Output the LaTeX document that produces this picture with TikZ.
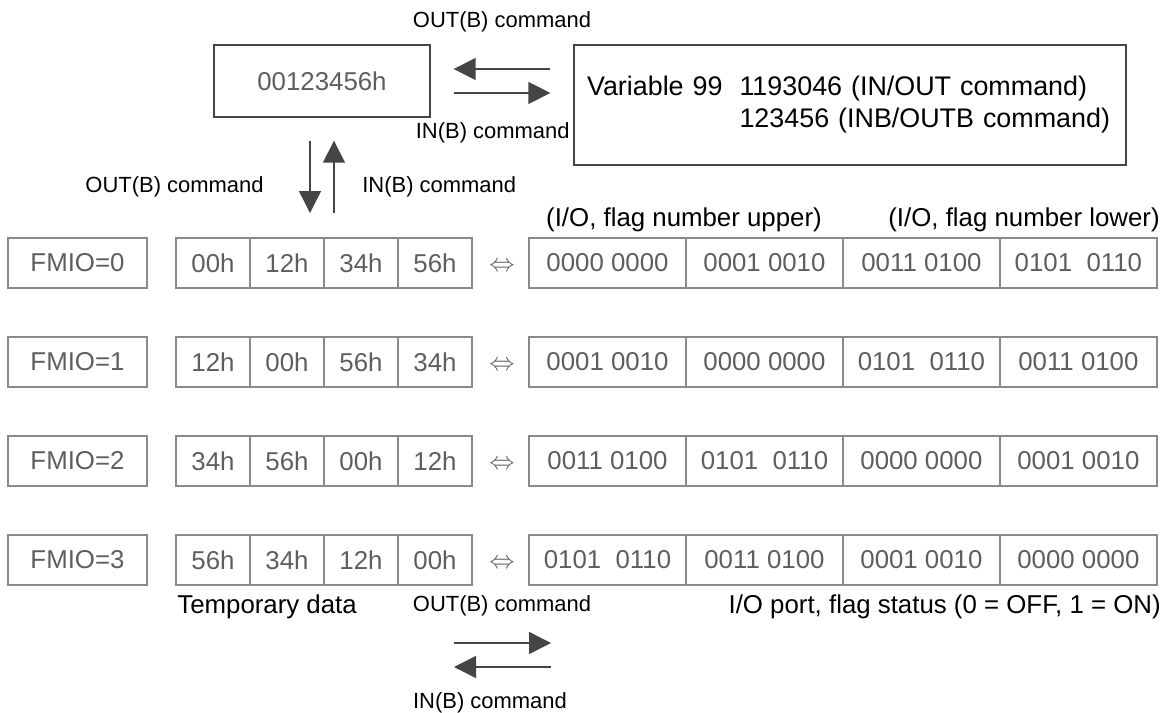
\documentclass[tikz,border=0pt]{standalone}
\usepackage{fontspec}
\setmainfont{Liberation Sans}
\usetikzlibrary{positioning}
\usetikzlibrary{arrows.meta}
\definecolor{boxgray}{HTML}{8A8A8A}
\definecolor{txtgray}{HTML}{5E5E5E}
\definecolor{arrgray}{HTML}{454545}

\begin{document}
\begin{tikzpicture}[x=0.02cm, y=-0.02cm,
    cell/.style={draw=boxgray, line width=0.7pt, outer sep=0pt, inner sep=0pt,
      minimum height=1cm, text=txtgray, font=\fontsize{14.7}{17}\selectfont},
    fmio/.style={cell, minimum width=2.78cm},
    byte/.style={cell, minimum width=1.48cm},
    bits/.style={cell, minimum width=3.14cm},
    eqv/.style={text=txtgray, inner sep=0pt, yshift=-2pt, font=\fontsize{15.5}{17}\selectfont},
    lbl/.style={inner sep=0pt, font=\fontsize{14.7}{17}\selectfont},
    cmd/.style={inner sep=0pt, font=\fontsize{12.5}{15}\selectfont},
    arr/.style={draw=arrgray, line width=0.8pt, -{Triangle[length=4.4mm,width=4.4mm]}}]
    \useasboundingbox (0,0) rectangle (1166,713);

    % top part
    \node[draw=arrgray, line width=0.8pt, minimum width=4.32cm, minimum height=1.44cm,
      text=txtgray, font=\fontsize{14.7}{17}\selectfont] (tmp) at (322,81) {00123456h};
    \node[draw=arrgray, line width=0.8pt, minimum width=11.04cm, minimum height=2.4cm,
      inner xsep=0.26cm, text width=10.52cm, align=left,
      font=\fontsize{15.3}{18.5}\selectfont] (var) at (850,105)
      {\begin{tabular}{@{}l@{\hspace{0.34cm}}l@{}}
        Variable 99 & 1193046 (IN/OUT command)\\
                    & 123456 (INB/OUTB command)
      \end{tabular}};
    \node[cmd] (topout) at (502,22) {OUT(B) command};
    \node[cmd, anchor=east] (topin) at (570,133) {IN(B) command};
    \node[cmd, anchor=east] (vout) at (264,187) {OUT(B) command};
    \node[cmd, anchor=west] (vin) at (362,187) {IN(B) command};
    \node[lbl] (upper) at (684,220) {(I/O, flag number upper)};
    \node[lbl, anchor=east] (lower) at (1160,220) {(I/O, flag number lower)};

    % FMIO=0
    \node[fmio] (F0) at (77.5,263) {FMIO=0};
    \node[byte, anchor=west] (a0) at (176,263) {00h};
    \node[byte] (b0) [right=0pt of a0] {12h};
    \node[byte] (c0) [right=0pt of b0] {34h};
    \node[byte] (d0) [right=0pt of c0] {56h};
    \node[eqv] (e0) at (502,263) {$\Leftrightarrow$};
    \node[bits, anchor=west] (p0) at (529,263) {0000 0000};
    \node[bits] (q0) [right=0pt of p0] {0001 0010};
    \node[bits] (r0) [right=0pt of q0] {0011 0100};
    \node[bits] (s0) [right=0pt of r0] {0101\ \ 0110};

    % FMIO=1
    \node[fmio] (F1) at (77.5,362) {FMIO=1};
    \node[byte, anchor=west] (a1) at (176,362) {12h};
    \node[byte] (b1) [right=0pt of a1] {00h};
    \node[byte] (c1) [right=0pt of b1] {56h};
    \node[byte] (d1) [right=0pt of c1] {34h};
    \node[eqv] (e1) at (502,362) {$\Leftrightarrow$};
    \node[bits, anchor=west] (p1) at (529,362) {0001 0010};
    \node[bits] (q1) [right=0pt of p1] {0000 0000};
    \node[bits] (r1) [right=0pt of q1] {0101\ \ 0110};
    \node[bits] (s1) [right=0pt of r1] {0011 0100};

    % FMIO=2
    \node[fmio] (F2) at (77.5,461) {FMIO=2};
    \node[byte, anchor=west] (a2) at (176,461) {34h};
    \node[byte] (b2) [right=0pt of a2] {56h};
    \node[byte] (c2) [right=0pt of b2] {00h};
    \node[byte] (d2) [right=0pt of c2] {12h};
    \node[eqv] (e2) at (502,461) {$\Leftrightarrow$};
    \node[bits, anchor=west] (p2) at (529,461) {0011 0100};
    \node[bits] (q2) [right=0pt of p2] {0101\ \ 0110};
    \node[bits] (r2) [right=0pt of q2] {0000 0000};
    \node[bits] (s2) [right=0pt of r2] {0001 0010};

    % FMIO=3
    \node[fmio] (F3) at (77.5,560) {FMIO=3};
    \node[byte, anchor=west] (a3) at (176,560) {56h};
    \node[byte] (b3) [right=0pt of a3] {34h};
    \node[byte] (c3) [right=0pt of b3] {12h};
    \node[byte] (d3) [right=0pt of c3] {00h};
    \node[eqv] (e3) at (502,560) {$\Leftrightarrow$};
    \node[bits, anchor=west] (p3) at (529,560) {0101\ \ 0110};
    \node[bits] (q3) [right=0pt of p3] {0011 0100};
    \node[bits] (r3) [right=0pt of q3] {0001 0010};
    \node[bits] (s3) [right=0pt of r3] {0000 0000};

    % bottom part
    \node[lbl, anchor=west] (temp) at (177,607) {Temporary data};
    \node[cmd] (botout) at (502,606) {OUT(B) command};
    \node[lbl, anchor=east] (status) at (1161,607) {I/O port, flag status (0 = OFF, 1 = ON)};
    \node[cmd] (botin) at (490,703) {IN(B) command};

    % arrows
    \coordinate (tl) at ([yshift=0.24cm]tmp.east);
    \coordinate (tr) at ([yshift=-0.24cm]tmp.east);
    \draw[arr, shorten <=0.46cm, shorten >=0.46cm] (tl -| var.west) -- (tl);
    \draw[arr, shorten <=0.46cm, shorten >=0.46cm] (tr) -- (tr -| var.west);
    \coordinate (dn) at ([xshift=-0.24cm]tmp.south);
    \coordinate (up) at ([xshift=0.24cm]tmp.south);
    \draw[arr, shorten <=0.46cm, shorten >=0.5cm] (dn) -- (dn |- a0.north);
    \draw[arr, shorten <=0.5cm, shorten >=0.46cm] (up |- a0.north) -- (up);
    \coordinate (oA) at (454,643);
    \coordinate (oB) at (551,643);
    \coordinate (iA) at (551,667);
    \coordinate (iB) at (454,667);
    \draw[arr] (oA) -- (oB);
    \draw[arr] (iA) -- (iB);
\end{tikzpicture}
\end{document}
